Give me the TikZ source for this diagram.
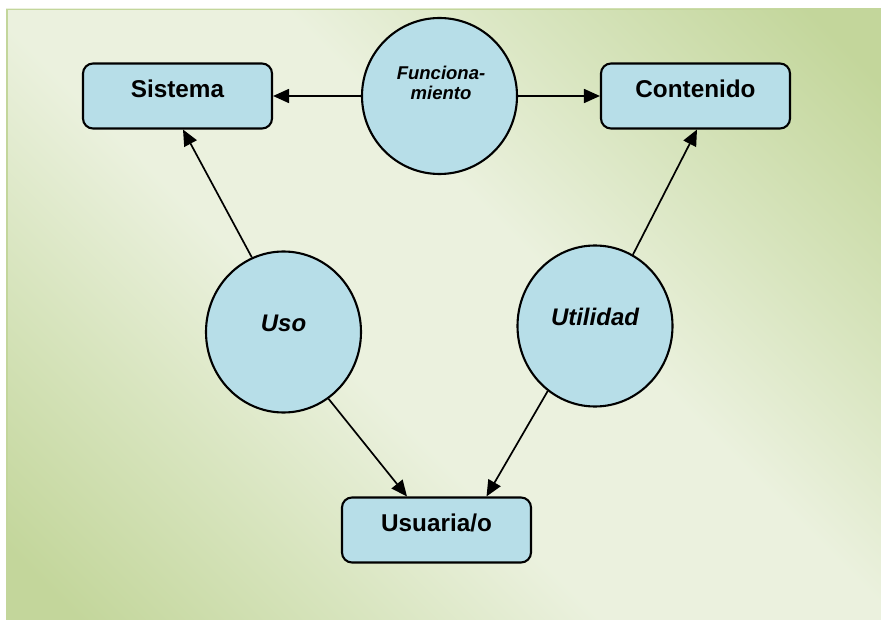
\documentclass[tikz,border=0pt]{standalone}
\usepackage{fontspec}
\setmainfont{Liberation Sans}
\usetikzlibrary{shapes.geometric,arrows.meta}
\definecolor{olivedark}{HTML}{C3D69B}
\definecolor{olivemid}{HTML}{D7E4BD}
\definecolor{olivelight}{HTML}{EBF1DE}
\definecolor{aqua}{HTML}{B7DEE8}
\pgfdeclarehorizontalshading{bgshade}{100bp}{color(0bp)=(olivedark); color(18bp)=(olivedark);
  color(31bp)=(olivemid); color(43bp)=(olivelight); color(57bp)=(olivelight);
  color(69bp)=(olivemid); color(82bp)=(olivedark); color(100bp)=(olivedark)}
\begin{document}
\begin{tikzpicture}[x=1pt,y=-1pt,
  box/.style={draw=black, line width=2.1pt, fill=aqua, rounded corners=10pt,
    minimum width=189pt, minimum height=65pt, inner sep=0pt,
    font=\fontsize{24.3}{28}\selectfont\bfseries, text height=18pt, text depth=15pt},
  bubble/.style={ellipse, draw=black, line width=2.1pt, fill=aqua, inner sep=0pt,
    minimum width=155pt, minimum height=161pt,
    font=\fontsize{24}{28}\selectfont\bfseries\itshape, text height=16pt, text depth=16pt},
  ftext/.style={font=\fontsize{18.5}{20.7}\selectfont\bfseries\itshape, align=center, inner sep=0pt},
  arr/.style={line width=1.7pt, -{Triangle[length=16pt,width=14pt]}}]
\useasboundingbox (0,0) rectangle (881,620);
\shade[shading=bgshade, shading angle=45] (6,9) rectangle (883,622);
\draw[olivedark, line width=1.5pt] (6.75,9.75) rectangle (883,622);

\node[box] (sistema) at (177.5,96) {Sistema};
\node[box] (contenido) at (695.5,96) {Contenido};
\node[box] (usuaria) at (436.5,530) {Usuaria/o};

\node[bubble, minimum height=156pt] (func) at (439.5,96) {};
\node[ftext] (functext) at (441,83) {Funciona-\\miento};
\node[bubble] (uso) at (283.5,332) {Uso};
\node[bubble] (util) at (595,326) {Utilidad};

\draw[arr] (func.west) -- (sistema.east);
\draw[arr] (func.east) -- (contenido.west);
\draw[arr] (uso.113.5) -- ([xshift=5.5pt]sistema.south);
\draw[arr] (uso.-56) -- ([xshift=-29.5pt]usuaria.north);
\draw[arr] (util.62.5) -- ([xshift=1.5pt]contenido.south);
\draw[arr] (util.-126) -- ([xshift=50pt]usuaria.north);
\end{tikzpicture}
\end{document}
